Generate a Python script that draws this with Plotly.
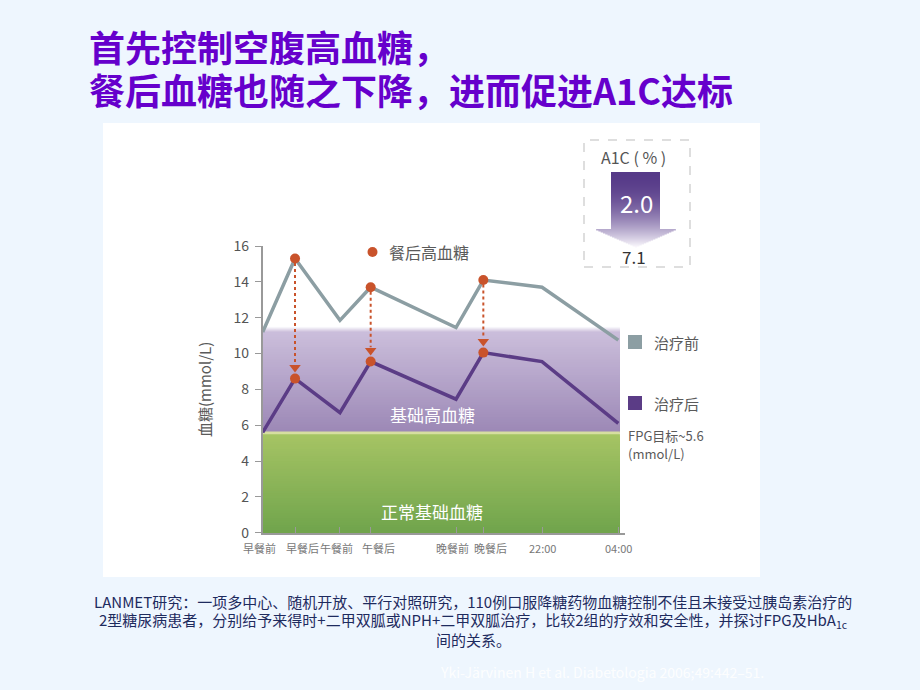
import plotly.graph_objects as go

W, H = 920, 690

# ---------------- data ----------------
categories = ["早餐前", "早餐后", "午餐前", "午餐后", "晚餐前", "晚餐后", "22:00", "04:00"]
x_pos = [0, 2.0, 4.78, 6.68, 11.96, 13.65, 17.28, 22.0]
before = [11.2, 15.3, 11.85, 13.7, 11.45, 14.1, 13.7, 10.75]   # 治疗前
after = [5.6, 8.6, 6.7, 9.55, 7.45, 10.05, 9.55, 6.1]          # 治疗后
peak_idx = [1, 3, 5]                                            # 餐后高血糖
fpg_target = 5.6
basal_top = 11.2
y_ticks = [0, 2, 4, 6, 8, 10, 12, 14, 16]
a1c_drop = "2.0"
a1c_final = "7.1"

title_lines = ["首先控制空腹高血糖，", "餐后血糖也随之下降，进而促进A1C达标"]
footer_lines = [
    "LANMET研究：一项多中心、随机开放、平行对照研究，110例口服降糖药物血糖控制不佳且未接受过胰岛素治疗的",
    "2型糖尿病患者，分别给予来得时+二甲双胍或NPH+二甲双胍治疗，比较2组的疗效和安全性，并探讨FPG及HbA<sub>1c</sub>",
    "间的关系。",
]
citation = "Yki-Järvinen H et al. Diabetologia 2006;49:442–51."

# ---------------- helpers ----------------
def px(x):
    return x / W

def py(y):
    return 1 - y / H

def lerp(c1, c2, t):
    return "rgb(%d,%d,%d)" % tuple(round(a + (b - a) * t) for a, b in zip(c1, c2))

FONT = "Noto Sans CJK SC, Noto Sans, sans-serif"
GREY_TXT = "#5a5a5a"
ORANGE = "#c9532b"
X_END = 22.1

x_left_px, x_right_px, x_last_px = 262.7, 625.0, 618.3
x_max = x_pos[-1] * (x_right_px - x_left_px) / (x_last_px - x_left_px)
y0_px, y16_px = 532.7, 246.0

fig = go.Figure()

# lines
fig.add_trace(go.Scatter(x=x_pos, y=before, mode="lines",
                         line=dict(color="#8c9ea3", width=3.5), hoverinfo="skip"))
fig.add_trace(go.Scatter(x=x_pos, y=after, mode="lines",
                         line=dict(color="#5b3c86", width=3.5), hoverinfo="skip"))

# dotted arrows
for i in peak_idx:
    fig.add_trace(go.Scatter(x=[x_pos[i], x_pos[i]], y=[before[i] - 0.25, after[i] + 0.8],
                             mode="lines", line=dict(color=ORANGE, width=2, dash="dot"),
                             hoverinfo="skip"))
fig.add_trace(go.Scatter(x=[x_pos[i] for i in peak_idx], y=[after[i] + 0.62 for i in peak_idx],
                         mode="markers",
                         marker=dict(symbol="triangle-down", size=10, color=ORANGE),
                         hoverinfo="skip"))
# orange peak markers
fig.add_trace(go.Scatter(x=[x_pos[i] for i in peak_idx] * 2,
                         y=[before[i] for i in peak_idx] + [after[i] for i in peak_idx],
                         mode="markers", marker=dict(size=10, color=ORANGE),
                         hoverinfo="skip"))

shapes = []
# page panel
shapes.append(dict(type="rect", xref="paper", yref="paper", x0=px(103), x1=px(760),
                   y0=py(577), y1=py(123), fillcolor="white", line=dict(width=0), layer="below"))

n = 40
# purple band gradient (nested rects, top colour first -> no seams)
top_c, bot_c = (203, 190, 219), (156, 136, 182)
fade = 0.3
for k in range(8, -1, -1):
    yt = basal_top + fade * (k + 1) / 8
    shapes.append(dict(type="rect", xref="x", yref="y", x0=0, x1=X_END, y0=fpg_target, y1=yt,
                       fillcolor=lerp(top_c, (255, 255, 255), (k + 0.5) / 8),
                       line=dict(width=0), layer="below"))
for k in range(n - 1, -1, -1):
    yt = fpg_target + (basal_top - fpg_target) * (k + 1) / n
    shapes.append(dict(type="rect", xref="x", yref="y", x0=0, x1=X_END, y0=fpg_target, y1=yt,
                       fillcolor=lerp(bot_c, top_c, (k + 0.5) / n),
                       line=dict(width=0), layer="below"))
# green band gradient
g_top = fpg_target - 0.1
shapes.append(dict(type="rect", xref="x", yref="y", x0=0, x1=X_END, y0=0, y1=fpg_target + 0.05,
                   fillcolor="rgb(214,222,160)", line=dict(width=0), layer="below"))
gt, gb = (166, 196, 100), (112, 164, 76)
for k in range(n - 1, -1, -1):
    yt = g_top * (k + 1) / n
    shapes.append(dict(type="rect", xref="x", yref="y", x0=0, x1=X_END, y0=0, y1=yt,
                       fillcolor=lerp(gb, gt, (k + 0.5) / n),
                       line=dict(width=0), layer="below"))

# legend squares
shapes.append(dict(type="rect", xref="paper", yref="paper", x0=px(628), x1=px(642),
                   y0=py(349), y1=py(335), fillcolor="#8c9ea3", line=dict(width=0)))
shapes.append(dict(type="rect", xref="paper", yref="paper", x0=px(628), x1=px(642),
                   y0=py(410), y1=py(396), fillcolor="#5b3c86", line=dict(width=0)))

# A1C dashed box
shapes.append(dict(type="rect", xref="paper", yref="paper", x0=px(584), x1=px(690),
                   y0=py(267), y1=py(140), fillcolor="rgba(0,0,0,0)",
                   line=dict(color="#bdbdbd", width=1, dash="dash")))
# A1C gradient arrow
top_y, neck_y, tip_y = 172.0, 229.0, 247.0
sx0, sx1, hx0, hx1, tipx = 611.0, 660.0, 595.0, 677.0, 636.0
c_top, c_bot = (86, 58, 136), (250, 248, 253)
y = top_y
step = 1.0
while y < tip_y:
    yc = y + step / 2
    t = (yc - top_y) / (tip_y - top_y)
    col = lerp(c_top, c_bot, t ** 2.0)
    if yc < neck_y:
        l, r = sx0, sx1
    else:
        f = (yc - neck_y) / (tip_y - neck_y)
        l = hx0 + (tipx - hx0) * f
        r = hx1 - (hx1 - tipx) * f
    shapes.append(dict(type="rect", xref="paper", yref="paper", x0=px(l), x1=px(r),
                       y0=py(y + step + 0.4), y1=py(y), fillcolor=col, line=dict(width=0)))
    y += step

annotations = []
def txt(x, y, s, size, color, xanchor="center", bold=False, **kw):
    annotations.append(dict(xref="paper", yref="paper", x=px(x), y=py(y), text=("<b>%s</b>" % s) if bold else s,
                            showarrow=False, xanchor=xanchor, yanchor="middle",
                            font=dict(family=FONT, size=size, color=color), **kw))

# title
txt(87, 46, title_lines[0], 36, "#6600cc", xanchor="left", bold=True)
txt(87, 88.5, title_lines[1], 36, "#6600cc", xanchor="left", bold=True)

# x category labels (pre-meal labels sit left of their tick, post-meal labels right)
for xv, lab in zip(x_pos, categories):
    if lab.endswith("前"):
        anchor, shift = "right", 15
    elif lab.endswith("后"):
        anchor, shift = "left", -11
    else:
        anchor, shift = "center", 0
    annotations.append(dict(xref="x", yref="paper", x=xv, y=py(548), text=lab, showarrow=False,
                            xanchor=anchor, yanchor="middle", xshift=shift,
                            font=dict(family=FONT, size=11, color="#777777")))

# chart texts
annotations.append(dict(xref="x", yref="y", x=10.5, y=6.6, text="基础高血糖", showarrow=False,
                        font=dict(family=FONT, size=17, color="white")))
annotations.append(dict(xref="x", yref="y", x=10.5, y=1.2, text="正常基础血糖", showarrow=False,
                        font=dict(family=FONT, size=17, color="white")))
# legend top
shapes.append(dict(type="circle", xref="paper", yref="paper", x0=px(367.5), x1=px(377.5),
                   y0=py(257), y1=py(247), fillcolor=ORANGE, line=dict(width=0)))
txt(387, 252, "餐后高血糖", 16, GREY_TXT, xanchor="left")
# right legend
txt(652, 343, "治疗前", 15, GREY_TXT, xanchor="left")
txt(652, 403, "治疗后", 15, GREY_TXT, xanchor="left")
txt(626, 435, "FPG目标~5.6", 13, GREY_TXT, xanchor="left")
txt(626, 453, "(mmol/L)", 13, GREY_TXT, xanchor="left")
# y title
txt(205, 390, "血糖(mmol/L)", 15, GREY_TXT, textangle=-90)
# A1C
txt(633, 157, "A1C ( % )", 16, "#555555")
txt(636, 203, a1c_drop, 24, "white")
txt(634, 257, a1c_final, 17, "#333333")

# footer
for k, s in enumerate(footer_lines):
    txt(473, 601 + 19 * k, s, 15, "#1e2b5e")
txt(602, 672, citation, 14, "rgba(255,255,255,0.9)")

fig.update_layout(
    width=W, height=H, margin=dict(l=0, r=0, t=0, b=0, pad=0, autoexpand=False),
    paper_bgcolor="#eef6fe", plot_bgcolor="rgba(0,0,0,0)",
    showlegend=False, shapes=shapes, annotations=annotations,
    xaxis=dict(domain=[px(x_left_px), px(x_right_px)], range=[0, x_max],
               tickvals=x_pos, showticklabels=False, ticks="inside", ticklen=6,
               tickcolor="#999999", tickwidth=1.2, automargin=False,
               showline=True, linecolor="#999999", linewidth=1.5,
               showgrid=False, zeroline=False, fixedrange=True),
    yaxis=dict(domain=[py(y0_px), py(y16_px)], range=[0, 16],
               tickvals=y_ticks, ticks="outside", ticklen=6, automargin=False,
               tickcolor="#999999", tickwidth=1.2, ticklabelstandoff=3,
               tickfont=dict(family=FONT, size=14, color="#555555"),
               showline=True, linecolor="#999999", linewidth=1.5,
               showgrid=False, zeroline=False, fixedrange=True),
)

fig.write_html("out.html", config={"displayModeBar": False},
               post_script="document.body.style.margin='0';document.body.style.overflow='hidden';")
